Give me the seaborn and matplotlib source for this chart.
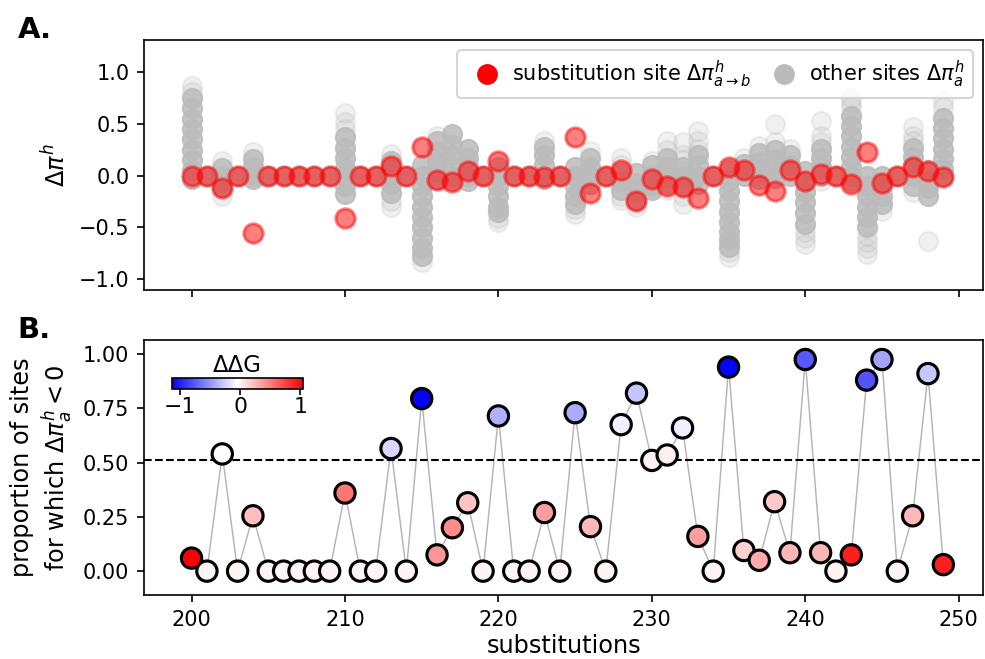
import matplotlib
matplotlib.use("Agg")
import matplotlib.pyplot as plt
import seaborn as sns
import pandas as pd
from matplotlib.lines import Line2D

# substitutions 200..249
substitutions = list(range(200, 250))

# panel A: delta pi at the substitution site
sub_site_dpi = [0.0, 0.0, -0.12, 0.0, -0.555, 0.0, 0.0, 0.0, 0.0, 0.0,
                -0.41, 0.0, 0.0, 0.09, 0.0, 0.28, -0.04, -0.065, 0.04, 0.0,
                0.14, 0.0, 0.0, -0.016, 0.0, 0.37, -0.165, 0.0, 0.05, -0.25,
                -0.03, -0.10, -0.11, -0.215, 0.0, 0.08, 0.05, -0.087, -0.145, 0.05,
                -0.048, 0.016, 0.0, -0.08, 0.225, -0.074, 0.0, 0.08, 0.04, -0.016]

# panel A: other sites, dense core and sparse outliers per substitution
other_core = [
    [0.75, 0.65, 0.55, 0.45, 0.35, 0.25, 0.15, 0.05, -0.03], [0.0],
    [0.07, 0.0, -0.05, -0.11], [0.0], [0.16, 0.08, 0.0, -0.03],
    [0.0], [0.0], [0.0], [0.0], [0.0],
    [0.37, 0.27, 0.17, 0.07, 0.0, -0.1, -0.18], [0.0], [0.0],
    [0.14, 0.07, 0.0, -0.08, -0.17], [0.0],
    [0.1, 0.0, -0.1, -0.2, -0.3, -0.4, -0.5, -0.6, -0.7, -0.78],
    [0.33, 0.23, 0.13, 0.03, -0.03], [0.4, 0.3, 0.2, 0.1, 0.0, -0.04],
    [0.26, 0.17, 0.08, 0.0, -0.05], [0.0],
    [0.08, 0.0, -0.1, -0.2, -0.3, -0.35], [0.0], [0.0],
    [0.28, 0.2, 0.1, 0.0, -0.03], [0.0],
    [0.08, 0.0, -0.1, -0.2, -0.27], [0.17, 0.08, 0.0, -0.08], [0.0],
    [0.02, -0.05, -0.14], [0.02, -0.07, -0.16, -0.24],
    [0.1, 0.0, -0.1, -0.14], [0.17, 0.08, 0.0, -0.07], [0.08, 0.0, -0.1],
    [0.2, 0.1, 0.0, -0.08], [0.0],
    [0.05, -0.05, -0.15, -0.25, -0.35, -0.45, -0.55, -0.62, -0.69],
    [0.11, 0.04, 0.0], [0.22, 0.13, 0.04, -0.03], [0.25, 0.15, 0.05, -0.02],
    [0.2, 0.1, 0.0],
    [0.04, -0.06, -0.16, -0.26, -0.36, -0.47], [0.26, 0.17, 0.08, 0.0], [0.0],
    [0.58, 0.48, 0.38, 0.28, 0.18, 0.08, 0.0, -0.05],
    [0.0, -0.1, -0.2, -0.3, -0.4, -0.5], [0.0, -0.1, -0.2, -0.27], [0.0],
    [0.27, 0.18, 0.09, 0.0, -0.1], [0.05, -0.05, -0.12, -0.2],
    [0.56, 0.46, 0.36, 0.26, 0.16, 0.06, 0.0],
]
other_faint = [
    [0.87, 0.81], [], [0.14, -0.2], [], [0.23], [], [], [], [], [],
    [0.6, 0.52, 0.45], [], [], [0.21, -0.25, -0.3], [], [-0.84],
    [0.38], [], [], [], [-0.41, -0.45], [], [], [0.33], [],
    [-0.32, -0.37], [0.24], [], [0.17, 0.1, -0.2, -0.24], [-0.3],
    [0.14], [0.33, 0.25, -0.14], [0.32, 0.2, 0.15, -0.2, -0.27],
    [0.43, 0.33, 0.26], [], [-0.74, -0.79], [0.17], [0.29], [0.5, 0.32],
    [0.26], [-0.55, -0.6, -0.66], [0.53, 0.38, 0.32, -0.05], [],
    [0.75, 0.7, 0.66], [-0.58, -0.64, -0.7, -0.76], [-0.34], [],
    [0.47, 0.38, 0.33, -0.16], [-0.63], [0.72, 0.66],
]

# panel B: proportion of sites with delta pi < 0, and ddG
prop_neg = [0.06, 0.0, 0.54, 0.0, 0.255, 0.0, 0.0, 0.0, 0.0, 0.0,
            0.36, 0.0, 0.0, 0.565, 0.0, 0.795, 0.075, 0.20, 0.315, 0.0,
            0.715, 0.0, 0.0, 0.27, 0.0, 0.73, 0.205, 0.0, 0.675, 0.82,
            0.51, 0.535, 0.66, 0.16, 0.0, 0.94, 0.095, 0.05, 0.32, 0.085,
            0.975, 0.085, 0.0, 0.075, 0.88, 0.975, 0.0, 0.255, 0.91, 0.03]
ddg = [1.04, 0.0, -0.05, 0.0, 0.23, 0.0, 0.0, 0.0, 0.0, 0.0,
       0.53, 0.0, 0.0, -0.22, 0.0, -1.14, 0.40, 0.44, 0.20, 0.0,
       -0.39, 0.0, 0.0, 0.36, 0.0, -0.40, 0.25, 0.0, -0.11, -0.29,
       0.01, 0.01, -0.11, 0.36, 0.0, -1.12, 0.15, 0.31, 0.18, 0.26,
       -0.76, 0.26, 0.0, 0.91, -0.78, -0.44, 0.0, 0.25, -0.29, 0.91]
threshold = 0.514

sns.set_style("ticks", {"axes.edgecolor": "black", "text.color": "black",
                        "axes.labelcolor": "black", "xtick.color": "black",
                        "ytick.color": "black", "xtick.major.size": 3.5,
                        "ytick.major.size": 3.5})
plt.rcParams["font.family"] = ["DejaVu Sans"]
plt.rcParams["font.size"] = 10
plt.rcParams["axes.labelsize"] = 11.5

fig = plt.figure(figsize=(985 / 150, 659 / 150), dpi=150)
ax1 = fig.add_axes([0.1462, 0.5599, 0.852, 0.3794])
ax2 = fig.add_axes([0.1462, 0.0971, 0.852, 0.387], sharex=ax1)

gray = "#bbbbbb"
core = pd.DataFrame([(s, v) for s, vals in zip(substitutions, other_core) for v in vals],
                    columns=["sub", "dpi"])
faint = pd.DataFrame([(s, v) for s, vals in zip(substitutions, other_faint) for v in vals],
                     columns=["sub", "dpi"])
sns.scatterplot(data=faint, x="sub", y="dpi", color=gray, edgecolor=gray, alpha=0.22,
                s=85, linewidth=1, ax=ax1, zorder=1)
sns.scatterplot(data=core, x="sub", y="dpi", color=gray, edgecolor=gray, alpha=0.85,
                s=85, linewidth=1, ax=ax1, zorder=1)
sns.scatterplot(x=substitutions, y=sub_site_dpi, color="red", edgecolor="red", alpha=0.5,
                s=85, linewidth=1.5, ax=ax1, zorder=3)

ax1.set_ylim(-1.106, 1.31)
ax1.set_yticks([-1.0, -0.5, 0.0, 0.5, 1.0])
ax1.set_ylabel(r"$\Delta\pi^h$")
ax1.set_xlabel("")
ax1.tick_params(labelbottom=False)
handles = [Line2D([], [], marker="o", ls="", color="red", markersize=9),
           Line2D([], [], marker="o", ls="", color=gray, markersize=9)]
ax1.legend(handles, [r"substitution site $\Delta\pi^h_{a\rightarrow b}$",
                     r"other sites $\Delta\pi^h_a$"],
           loc="upper right", ncol=2, handletextpad=0.2, columnspacing=0.6,
           borderpad=0.4, fontsize=10)

# panel B
dfb = pd.DataFrame({"sub": substitutions, "prop": prop_neg, "ddg": ddg})
sns.lineplot(data=dfb, x="sub", y="prop", color="#b5b5b5", linewidth=0.7, ax=ax2, zorder=1)
vmin, vmax = min(ddg), max(ddg)
sns.scatterplot(data=dfb, x="sub", y="prop", hue="ddg", palette="bwr", hue_norm=(vmin, vmax),
                edgecolor="black", linewidth=1.5, s=95, legend=False, ax=ax2, zorder=3)
ax2.axhline(threshold, color="black", ls="--", lw=1, zorder=2)
ax2.set_ylim(-0.11, 1.065)
ax2.set_yticks([0.0, 0.25, 0.5, 0.75, 1.0])
ax2.set_xlim(196.9, 251.6)
ax2.set_xticks([200, 210, 220, 230, 240, 250])
ax2.set_xlabel("substitutions", labelpad=2)
ax2.set_ylabel("proportion of sites\n" + r"for which $\Delta\pi^h_a < 0$")

cax = fig.add_axes([0.1743, 0.4097, 0.133, 0.0167])
sm = plt.cm.ScalarMappable(cmap="bwr", norm=plt.Normalize(vmin, vmax))
cb = fig.colorbar(sm, cax=cax, orientation="horizontal", ticks=[-1, 0, 1])
cb.ax.set_title("ΔΔG", fontsize=11, pad=3)
cb.ax.tick_params(labelsize=10.5, length=3, pad=1)

fig.text(0.018, 0.942, "A.", fontsize=14, fontweight="bold")
fig.text(0.018, 0.487, "B.", fontsize=14, fontweight="bold")

fig.savefig("out.png", dpi=150)
